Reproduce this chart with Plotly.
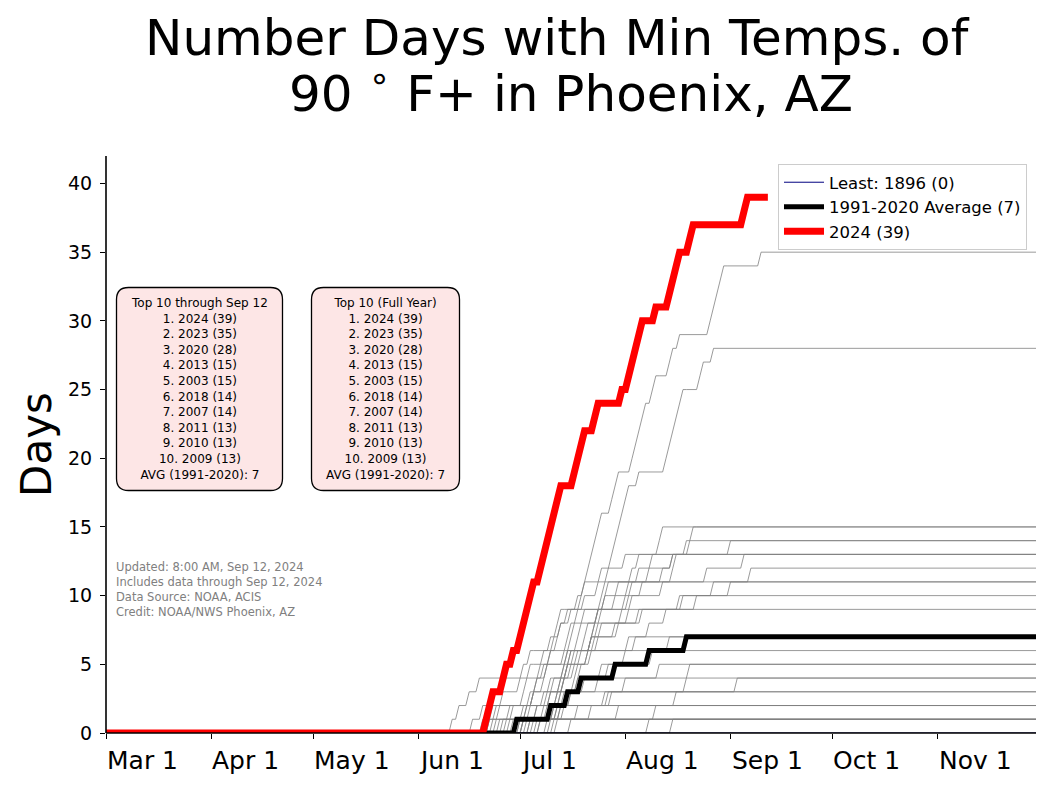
import pandas as pd
import numpy as np
import plotly.graph_objects as go

# ---------------- data ----------------
season_start = "2024-03-01"
season_end = "2024-11-30"
data_through = "2024-09-12"

month_ticks = ["2024-03-01", "2024-04-01", "2024-05-01", "2024-06-01", "2024-07-01",
               "2024-08-01", "2024-09-01", "2024-10-01", "2024-11-01"]
month_labels = ["Mar 1", "Apr 1", "May 1", "Jun 1", "Jul 1", "Aug 1", "Sep 1", "Oct 1", "Nov 1"]
y_ticks = [0, 5, 10, 15, 20, 25, 30, 35, 40]

# dates (MM-DD) on which the minimum temperature was >= 90F
dates_2024 = ["06-21", "06-22", "06-23", "06-26", "06-27", "06-29",
              "07-01", "07-02", "07-03", "07-04", "07-05", "07-07", "07-08", "07-09", "07-10",
              "07-11", "07-12", "07-13", "07-17", "07-18", "07-19", "07-20", "07-23", "07-24",
              "07-31", "08-02", "08-03", "08-04", "08-05", "08-06", "08-10", "08-14", "08-15",
              "08-16", "08-17", "08-20", "08-21", "09-05", "09-06"]
dates_avg = ["06-30", "07-10", "07-15", "07-19", "07-29", "08-08", "08-19"]
dates_1896 = []

dates_2023 = ["07-10", "07-11", "07-12", "07-13", "07-14", "07-15", "07-16", "07-17", "07-18",
              "07-19", "07-20", "07-21", "07-22", "07-23", "07-24", "07-25", "07-28", "07-29",
              "07-30", "08-03", "08-04", "08-05", "08-06", "08-07", "08-09", "08-10", "08-14",
              "08-15", "08-17", "08-26", "08-27", "08-28", "08-29", "08-30", "09-10"]
dates_2020 = ["07-11", "07-12", "07-16", "07-18", "07-19", "07-21", "07-22", "07-23", "07-24",
              "07-25", "07-26", "07-27", "07-28", "07-29", "07-30", "07-31", "08-01", "08-02",
              "08-05", "08-13", "08-14", "08-15", "08-16", "08-17", "08-18", "08-23", "08-24",
              "08-27"]
dates_2013 = ["06-28", "06-29", "07-02", "07-03", "07-04", "07-08", "07-12", "07-13", "07-16",
              "07-20", "07-24", "07-25", "08-01", "08-11", "08-12"]
dates_2003 = ["07-05", "07-06", "07-13", "07-14", "07-15", "07-16", "07-20", "07-21", "07-24",
              "07-29", "07-30", "08-05", "08-15", "08-20", "08-21"]
dates_2018 = ["06-22", "06-23", "07-05", "07-06", "07-07", "07-14", "07-23", "07-24", "07-25",
              "07-26", "08-06", "08-08", "08-09", "08-19"]
dates_2007 = ["07-03", "07-04", "07-05", "07-13", "07-14", "07-15", "07-18", "07-19", "07-20",
              "08-02", "08-03", "08-15", "08-16", "09-01"]
dates_2011 = ["07-02", "07-03", "07-04", "07-08", "07-09", "07-10", "07-15", "07-16", "07-24",
              "07-26", "07-27", "08-03", "08-05"]
dates_2010 = ["07-04", "07-12", "07-13", "07-14", "07-15", "07-16", "07-22", "07-23", "07-31",
              "08-01", "08-02", "08-12", "08-15"]
dates_2009 = ["06-23", "06-24", "07-16", "07-17", "07-18", "07-19", "07-22", "07-25", "08-02",
              "08-03", "08-12", "08-25", "09-05"]
dates_2016 = ["07-02", "07-03", "07-10", "07-11", "07-17", "07-18", "07-22", "07-29", "08-05",
              "08-17", "08-27", "09-07"]
dates_2017 = ["06-20", "06-25", "06-26", "07-01", "07-02", "07-04", "07-10", "07-12", "07-13",
              "07-18", "07-20"]
dates_2021 = ["07-06", "07-13", "07-14", "07-20", "07-27", "08-01", "08-02", "08-08", "08-13",
              "08-22", "09-01"]
dates_2019 = ["07-01", "07-08", "07-09", "07-10", "07-16", "07-17", "07-24", "07-30", "08-06",
              "08-18"]
dates_2022 = ["06-25", "06-28", "07-05", "07-06", "07-09", "07-10", "07-11", "07-13", "07-15"]
dates_2012 = ["06-27", "07-02", "07-08", "07-14", "07-15", "07-21", "08-04"]
dates_2006 = ["07-07", "07-11", "07-12", "07-18", "07-25", "08-09", "08-14"]
dates_2005 = ["06-11", "06-13", "06-16", "06-19", "07-08", "07-22"]
dates_2015 = ["06-17", "06-20", "07-10", "07-24", "08-20"]
dates_2014 = ["07-04", "07-14", "07-15", "08-01", "08-11"]
dates_2008 = ["06-24", "07-09", "07-27", "08-19"]
dates_2002 = ["07-12", "07-13", "07-26", "09-03"]
dates_2001 = ["06-22", "07-06", "07-28"]
dates_2000 = ["07-02", "07-18", "08-16"]
dates_1998 = ["06-26", "07-22"]
dates_1996 = ["07-09", "08-10"]
dates_1995 = ["07-01", "07-30"]
dates_1990 = ["06-29"]
dates_1989 = ["07-07"]
dates_1994 = ["07-16"]
dates_2004 = ["08-08"]
dates_1985 = ["08-15"]

gray_years = [
    ("2023", dates_2023), ("2020", dates_2020), ("2013", dates_2013), ("2003", dates_2003),
    ("2018", dates_2018), ("2007", dates_2007), ("2011", dates_2011), ("2010", dates_2010),
    ("2009", dates_2009), ("2016", dates_2016), ("2017", dates_2017), ("2021", dates_2021),
    ("2019", dates_2019), ("2022", dates_2022), ("2012", dates_2012), ("2006", dates_2006),
    ("2005", dates_2005), ("2015", dates_2015), ("2014", dates_2014), ("2008", dates_2008),
    ("2002", dates_2002), ("2001", dates_2001), ("2000", dates_2000), ("1998", dates_1998),
    ("1996", dates_1996), ("1995", dates_1995), ("1990", dates_1990), ("1989", dates_1989),
    ("1994", dates_1994), ("2004", dates_2004), ("1985", dates_1985),
]

top10_years = [2024, 2023, 2020, 2013, 2003, 2018, 2007, 2011, 2010, 2009]
top10_counts = [39, 35, 28, 15, 15, 14, 14, 13, 13, 13]
top10_full_years = [2024, 2023, 2020, 2013, 2003, 2018, 2007, 2011, 2010, 2009]
top10_full_counts = [39, 35, 28, 15, 15, 14, 14, 13, 13, 13]
avg_value = 7
least_year, least_count = 1896, 0

title_line1 = "Number Days with Min Temps. of"
title_line2 = "90\u00a0<sup>∘</sup>\u00a0F+ in Phoenix, AZ"
footnote_lines = ["Updated: 8:00 AM, Sep 12, 2024", "Includes data through Sep 12, 2024",
                  "Data Source: NOAA, ACIS", "Credit: NOAA/NWS Phoenix, AZ"]

# ---------------- helpers ----------------
FONT = "DejaVu Sans"


def cumulative(dates, end=season_end):
    days = pd.date_range(season_start, end, freq="D")
    ev = pd.to_datetime(["2024-" + d for d in dates])
    counts = np.array([(ev <= d).sum() for d in days])
    return days, counts


# figure geometry (pixels) used to place layout items
W, H = 1051, 787
L, R, T, B = 106, 15, 156, 54
PW, PH = W - L - R, H - T - B


def px(x):
    return (x - L) / PW


def py(y):
    return (H - B - y) / PH


def rounded_box(x0, y0, x1, y1, r):
    P = lambda a, b: f"{px(a):.5f},{py(b):.5f}"
    return (f"M {P(x0 + r, y0)} L {P(x1 - r, y0)} Q {P(x1, y0)} {P(x1, y0 + r)} "
            f"L {P(x1, y1 - r)} Q {P(x1, y1)} {P(x1 - r, y1)} L {P(x0 + r, y1)} "
            f"Q {P(x0, y1)} {P(x0, y1 - r)} L {P(x0, y0 + r)} Q {P(x0, y0)} {P(x0 + r, y0)} Z")


# ---------------- figure ----------------
fig = go.Figure()

for yr, dts in gray_years:
    d, c = cumulative(dts)
    fig.add_trace(go.Scatter(x=d, y=c, mode="lines", line=dict(color="gray", width=0.8),
                             name=yr, showlegend=False, hoverinfo="skip"))

d, c = cumulative(dates_1896)
fig.add_trace(go.Scatter(x=d, y=c, mode="lines", line=dict(color="navy", width=1),
                         name=f"Least: {least_year} ({least_count})"))
d, c = cumulative(dates_avg)
fig.add_trace(go.Scatter(x=d, y=c, mode="lines", line=dict(color="black", width=5),
                         name=f"1991-2020 Average ({avg_value})"))
d, c = cumulative(dates_2024, end=data_through)
fig.add_trace(go.Scatter(x=d, y=c, mode="lines", line=dict(color="red", width=7),
                         name=f"2024 ({len(dates_2024)})"))

annotations = []
for t, lab in zip(month_ticks, month_labels):
    annotations.append(dict(x=t, xref="x", y=0, yref="paper", yanchor="top", xanchor="left",
                            yshift=-11, xshift=-1, text=lab, showarrow=False,
                            font=dict(family=FONT, size=25, color="black")))

annotations.append(dict(x=px(557), y=py(38), xref="paper", yref="paper", text=title_line1,
                        showarrow=False, xanchor="center", yanchor="middle",
                        font=dict(family=FONT, size=50, color="black")))
annotations.append(dict(x=px(571), y=py(90), xref="paper", yref="paper", text=title_line2,
                        showarrow=False, xanchor="center", yanchor="middle",
                        font=dict(family=FONT, size=50, color="black")))

box1 = ["Top 10 through Sep 12"] + [f"{i + 1}. {y} ({n})" for i, (y, n) in
                                    enumerate(zip(top10_years, top10_counts))] + [
    f"AVG (1991-2020): {avg_value}"]
box2 = ["Top 10 (Full Year)"] + [f"{i + 1}. {y} ({n})" for i, (y, n) in
                                 enumerate(zip(top10_full_years, top10_full_counts))] + [
    f"AVG (1991-2020): {avg_value}"]

annotations.append(dict(x=px(199.5), y=py(389), xref="paper", yref="paper", text="<br>".join(box1),
                        showarrow=False, align="center", xanchor="center", yanchor="middle",
                        font=dict(family=FONT, size=12, color="black")))
annotations.append(dict(x=px(385.5), y=py(389), xref="paper", yref="paper", text="<br>".join(box2),
                        showarrow=False, align="center", xanchor="center", yanchor="middle",
                        font=dict(family=FONT, size=12, color="black")))
annotations.append(dict(x=px(114), y=py(558), xref="paper", yref="paper", text="<br>".join(footnote_lines),
                        showarrow=False, align="left", xanchor="left", yanchor="top",
                        font=dict(family=FONT, size=11.5, color="gray")))

shapes = [
    dict(type="path", xref="paper", yref="paper", path=rounded_box(116.5, 287.5, 282.5, 490.5, 12),
         fillcolor="rgb(253,230,230)", line=dict(color="black", width=1.3), layer="below"),
    dict(type="path", xref="paper", yref="paper", path=rounded_box(311.5, 287.5, 459.5, 490.5, 12),
         fillcolor="rgb(253,230,230)", line=dict(color="black", width=1.3), layer="below"),
    # axis spines (drawn over the data, like the reference)
    dict(type="line", xref="paper", yref="paper", x0=0, x1=1, y0=0, y1=0,
         line=dict(color="black", width=1.6), layer="above"),
    dict(type="line", xref="paper", yref="paper", x0=0, x1=0, y0=0, y1=1,
         line=dict(color="black", width=1.6), layer="above"),
]

fig.update_layout(
    width=W, height=H,
    margin=dict(l=L, r=R, t=T, b=B, pad=0, autoexpand=False),
    paper_bgcolor="white", plot_bgcolor="white",
    font=dict(family=FONT, color="black"),
    xaxis=dict(type="date", range=[season_start, season_end], tickvals=month_ticks,
               showticklabels=False, ticks="outside", ticklen=5, tickwidth=1.3, tickcolor="black",
               showline=False, showgrid=False, zeroline=False, automargin=False),
    yaxis=dict(range=[0, 42], tickvals=y_ticks, ticks="outside", ticklen=5, tickwidth=1.3,
               tickcolor="black", showline=False,
               showgrid=False, zeroline=False, tickfont=dict(family=FONT, size=19),
               ticklabelstandoff=4, automargin=False,
               title=dict(text="Days", font=dict(family=FONT, size=42), standoff=3)),
    legend=dict(x=px(1027), y=py(164), xanchor="right", yanchor="top", bgcolor="white",
                bordercolor="#cccccc", borderwidth=1, font=dict(family=FONT, size=16.5),
                tracegroupgap=0, itemwidth=40),
    annotations=annotations,
    shapes=shapes,
    showlegend=True,
)

fig.write_html("out.html", config={"displayModeBar": False},
               post_script="document.body.style.margin='0px';")
